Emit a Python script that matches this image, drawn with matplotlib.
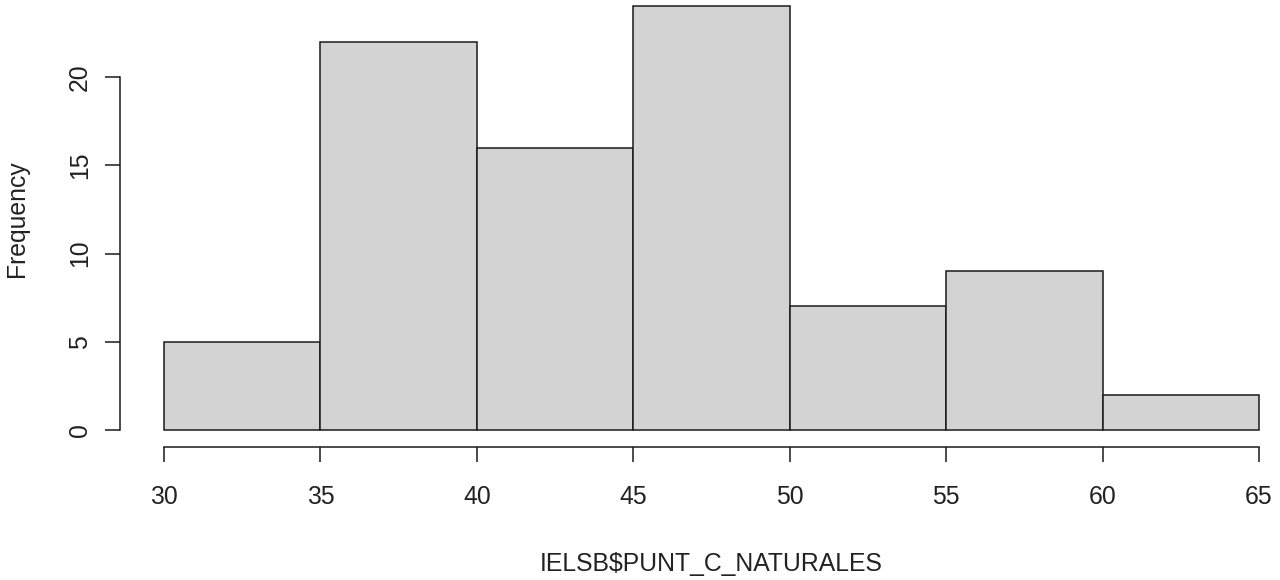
import matplotlib
matplotlib.use("Agg")
import matplotlib.pyplot as plt

# Data
bin_edges = [30, 35, 40, 45, 50, 55, 60, 65]
counts = [5, 22, 16, 24, 7, 9, 2]
x_ticks = [30, 35, 40, 45, 50, 55, 60, 65]
y_ticks = [0, 5, 10, 15, 20]
x_label = "IELSB$PUNT_C_NATURALES"
y_label = "Frequency"

plt.rcParams['font.family'] = ['Liberation Sans', 'DejaVu Sans']

W, H = 1280, 580
fig = plt.figure(figsize=(W / 100, H / 100), dpi=100)

# plot region in pixels (R style 4% extension)
xmin, xmax = 28.6, 66.4
ymin, ymax = -0.96, 24.96
px_left, px_right = 120.2, 1302.8
px_bottom, px_top = 447.0, -10.6
ax = fig.add_axes([px_left / W, (H - px_bottom) / H,
                   (px_right - px_left) / W, (px_bottom - px_top) / H])
ax.set_xlim(xmin, xmax)
ax.set_ylim(ymin, ymax)

lefts = bin_edges[:-1]
widths = [b - a for a, b in zip(bin_edges[:-1], bin_edges[1:])]
ax.bar(lefts, counts, width=widths, align='edge', color='#D3D3D3',
       edgecolor='#1a1a1a', linewidth=1.1)

for s in ['top', 'right']:
    ax.spines[s].set_visible(False)
ax.spines['left'].set_bounds(y_ticks[0], y_ticks[-1])
ax.spines['bottom'].set_bounds(x_ticks[0], x_ticks[-1])
for s in ['left', 'bottom']:
    ax.spines[s].set_linewidth(1.1)
    ax.spines[s].set_color('#1a1a1a')

ax.set_xticks(x_ticks)
ax.set_yticks(y_ticks)
ax.tick_params(axis='both', length=10.5, width=1.1, color='#1a1a1a',
               labelsize=17.8, labelcolor='#222222')
ax.tick_params(axis='x', pad=16.5)
ax.tick_params(axis='y', pad=10, labelrotation=90)
for lab in ax.get_yticklabels():
    lab.set_va('center')

ax.set_xlabel(x_label, fontsize=17.8, color='#222222', labelpad=31)
ax.set_ylabel(y_label, fontsize=17.8, color='#222222', labelpad=28)

fig.savefig('out.png', dpi=100)
